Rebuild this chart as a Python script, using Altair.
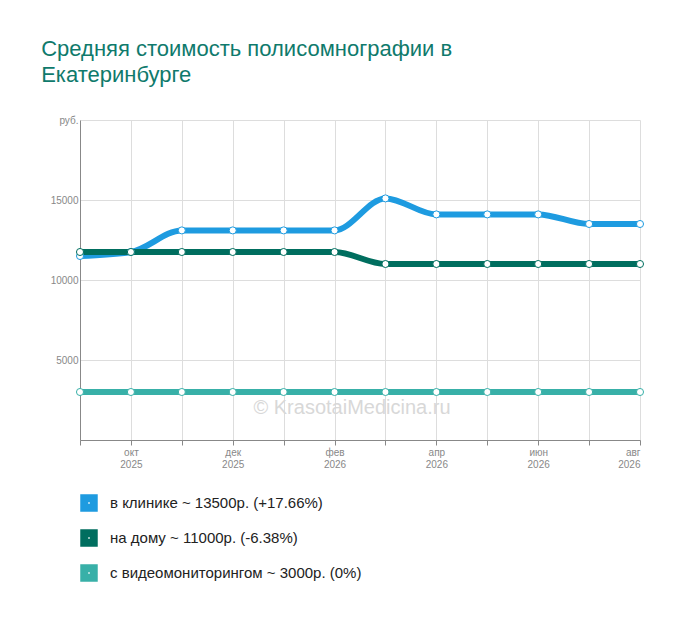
import pandas as pd
import altair as alt

months = list(range(12))
month_labels = [["", ""], ["окт", "2025"], ["", ""], ["дек", "2025"], ["", ""], ["фев", "2026"],
                ["", ""], ["апр", "2026"], ["", ""], ["июн", "2026"], ["", ""], ["авг", "2026"]]
series = ["в клинике ~ 13500р. (+17.66%)", "на дому ~ 11000р. (-6.38%)", "с видеомониторингом ~ 3000р. (0%)"]
clinic = [11500, 11750, 13100, 13100, 13100, 13100, 15100, 14100, 14100, 14100, 13500, 13500]
home = [11750, 11750, 11750, 11750, 11750, 11750, 11000, 11000, 11000, 11000, 11000, 11000]
video = [3000] * 12
colors = ["#1e9be0", "#006e5f", "#38b0a8"]

rows = []
for name, vals in zip(series, [clinic, home, video]):
    for m, v in zip(months, vals):
        rows.append({"m": m, "v": v, "s": name})
df = pd.DataFrame(rows)

label_expr = "[" + ",".join("['%s','%s']" % tuple(l) for l in month_labels) + "][datum.value]"

x = alt.X("m:Q", scale=alt.Scale(domain=[0, 11], nice=False),
          axis=alt.Axis(values=months, labelExpr=label_expr, title=None, gridColor="#dddddd",
                        labelColor="#888", labelFontSize=10, domainColor="#888", tickColor="#888",
                        labelFont="Arial"))
y = alt.Y("v:Q", scale=alt.Scale(domain=[0, 20000], nice=False),
          axis=alt.Axis(values=[0, 5000, 10000, 15000, 20000],
                        labelExpr="datum.value == 20000 ? 'руб.' : datum.value == 0 ? '' : datum.value",
                        title=None, gridColor="#dddddd", labelColor="#888", labelFontSize=10,
                        domainColor="#888", tickSize=0, labelFont="Arial"))
color = alt.Color("s:N", scale=alt.Scale(domain=series, range=colors),
                  legend=alt.Legend(title=None, orient="none", legendX=0, legendY=374,
                                    direction="vertical", symbolType="square", symbolSize=90,
                                    symbolStrokeWidth=8, labelFontSize=15, rowPadding=17,
                                    clipHeight=18, labelLimit=500, labelOffset=12,
                                    labelFont="Arial", labelColor="#222"))

base = alt.Chart(df)
lines = base.mark_line(interpolate="monotone", strokeWidth=6).encode(x=x, y=y, color=color)
pts = base.mark_point(filled=True, fill="white", size=50, strokeWidth=1, opacity=1).encode(
    x="m:Q", y="v:Q", stroke=alt.Stroke("s:N", scale=alt.Scale(domain=series, range=colors), legend=None))
wm = alt.Chart(pd.DataFrame({"t": ["© KrasotaiMedicina.ru"]})).mark_text(
    fontSize=20, color="#d8d8d8", font="Arial").encode(text="t:N", x=alt.value(272), y=alt.value(288))

chart = (lines + pts + wm).properties(
    width=560, height=320,
    title=alt.TitleParams(["Средняя стоимость полисомнографии в", "Екатеринбурге"], anchor="start",
                          fontSize=22, fontWeight="normal", color="#0f7a6c", font="Arial",
                          offset=28, dx=-9, lineHeight=26),
    padding={"left": 33, "top": 30, "right": 40, "bottom": 140},
).configure_view(stroke=None)

chart.save("out.html", embed_options={"renderer": "svg", "actions": False})
